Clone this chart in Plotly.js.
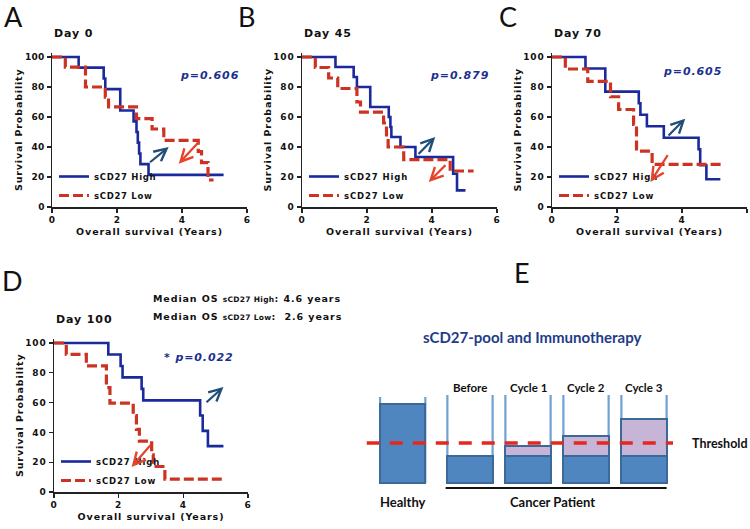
<!DOCTYPE html>
<html>
<head>
<meta charset="utf-8">
<script src="https://cdn.plot.ly/plotly-3.0.1.min.js"></script>
<style>
html,body{margin:0;padding:0;background:#fff}
#chart{width:750px;height:529px}
svg text{letter-spacing:0.9px}
text.ytitle{letter-spacing:0.85px}
text.xtitle{letter-spacing:0.9px}
.xtick text,.ytick text{letter-spacing:0.3px}
text.legendtext{letter-spacing:0.7px}
</style>
</head>
<body>
<div id="chart"></div>
<script>
// ---------------- DATA ----------------
// Kaplan-Meier step curves (time in years, survival %)
const aHighT = [0, 0.82, 1.59, 1.64, 2.10, 2.51, 2.60, 2.64, 2.68, 2.72, 2.97, 5.28];
const aHighS = [100, 92.9, 85.7, 78.6, 64.3, 57.1, 50.0, 42.9, 35.7, 28.6, 21.4, 21.4];
const aLowT  = [0, 0.41, 1.03, 1.64, 1.74, 2.60, 3.08, 3.44, 4.50, 4.60, 4.80, 4.97];
const aLowS  = [100, 93.3, 80.0, 73.3, 66.7, 58.9, 52.0, 44.4, 37.0, 29.6, 18.0, 18.0];

const bHighT = [0, 1.03, 1.59, 1.69, 2.10, 2.67, 2.72, 2.75, 3.03, 3.49, 4.65, 4.77, 5.03];
const bHighS = [100, 93.3, 86.7, 80.0, 66.7, 60.0, 53.3, 46.7, 40.0, 33.3, 22.2, 11.1, 11.1];
const bLowT  = [0, 0.41, 0.82, 1.10, 1.69, 1.80, 2.51, 2.60, 2.65, 3.13, 4.56, 5.28];
const bLowS  = [100, 93.0, 86.0, 79.0, 70.0, 63.3, 56.0, 48.0, 40.0, 31.6, 24.0, 24.0];

const cHighT = [0, 1.03, 1.64, 2.67, 2.72, 2.92, 3.44, 4.51, 4.56, 4.75, 5.18];
const cHighS = [100, 92.3, 76.9, 69.2, 61.5, 53.8, 46.2, 38.5, 27.8, 18.5, 18.5];
const cLowT  = [0, 0.41, 1.10, 1.80, 2.05, 2.51, 2.60, 3.08, 5.28];
const cLowS  = [100, 92.0, 83.8, 73.5, 65.0, 55.0, 37.3, 28.4, 28.4];

const dHighT = [0, 1.68, 2.06, 2.12, 2.71, 2.76, 4.52, 4.60, 4.76, 5.24];
const dHighS = [100, 92.3, 84.6, 76.9, 69.2, 61.5, 51.3, 41.0, 30.8, 30.8];
const dLowT  = [0, 0.38, 1.00, 1.62, 1.73, 2.45, 2.55, 2.64, 3.02, 3.07, 3.43, 5.29];
const dLowS  = [100, 92.3, 84.6, 70.0, 59.7, 51.3, 42.0, 34.2, 25.0, 17.1, 8.6, 8.6];

const panelDays = ['Day 0', 'Day 45', 'Day 70', 'Day 100'];
const pValues   = ['p=0.606', 'p=0.879', 'p=0.605', '* p=0.022'];
const seriesNames = ['sCD27 High', 'sCD27 Low'];
const xTicks = [0, 2, 4, 6];
const yTicks = [0, 20, 40, 60, 80, 100];
const medianHigh = 4.6;
const medianLow = 2.6;

// Panel E: sCD27 pool schematic
const stages = ['Healthy', 'Before', 'Cycle 1', 'Cycle 2', 'Cycle 3'];
const basePool = [79, 27, 27, 27, 27];
const therapyGain = [0, 0, 10, 20, 37];
const thresholdLevel = 40;

// ---------------- LAYOUT HELPERS ----------------
const W = 750, H = 529;
const px = v => v / W;
const py = v => 1 - v / H;
const BLUE = '#1a2a9c', RED = '#cc3322';
const ARROW_BLUE = '#1f4e79', ARROW_RED = '#e5432c';
const FONT = 'DejaVu Sans';
const noSpace = s => '<span style="letter-spacing:0px">' + s + '</span>';

const curves = [
  [aHighT, aHighS, aLowT, aLowS],
  [bHighT, bHighS, bLowT, bLowS],
  [cHighT, cHighS, cLowT, cLowS],
  [dHighT, dHighS, dLowT, dLowS]
];
// plot-area boxes in pixels: [left, right(x=6), top(y=100), bottom(y=0)]
const boxes = [
  [52, 247, 57, 207],
  [302, 497, 57, 207],
  [552, 747, 57, 207],
  [54, 248, 343, 492]
];
const legendTops = [162, 162, 162, 447];
const YMAX = 103;

const data = [];
const layout = {
  width: W, height: H,
  margin: {l: 0, r: 0, t: 0, b: 0},
  paper_bgcolor: '#fff', plot_bgcolor: 'rgba(0,0,0,0)',
  showlegend: true,
  barmode: 'stack',
  annotations: [], shapes: []
};

curves.forEach((c, i) => {
  const k = i + 1;
  const sfx = k === 1 ? '' : String(k);
  const xa = 'x' + sfx, ya = 'y' + sfx, lg = 'legend' + sfx;
  data.push({x: c[0], y: c[1], mode: 'lines', name: seriesNames[0], xaxis: xa, yaxis: ya, legend: lg,
    line: {shape: 'hv', color: BLUE, width: 2.6}, hoverinfo: 'skip'});
  data.push({x: c[2], y: c[3], mode: 'lines', name: seriesNames[1], xaxis: xa, yaxis: ya, legend: lg,
    line: {shape: 'hv', color: RED, width: 3.2, dash: '10px,4px'}, hoverinfo: 'skip'});

  const b = boxes[i];
  const pxPerUnit = (b[3] - b[2]) / 100;
  const topPx = b[3] - YMAX * pxPerUnit;
  const axFont = {family: FONT, size: 9, color: '#111', weight: 'bold'};
  layout['xaxis' + sfx] = {
    domain: [px(b[0]), px(b[1])], range: [0, 6], anchor: ya,
    tickvals: xTicks, ticks: 'outside', ticklen: 4, tickwidth: 1.2, tickcolor: '#222',
    showline: true, linecolor: '#222', linewidth: 1.5, showgrid: false, zeroline: false,
    tickfont: axFont, fixedrange: true,
    title: {text: 'Overall survival (Years)', font: {family: FONT, size: 9.5, color: '#111', weight: 'bold'}, standoff: 4}
  };
  layout['yaxis' + sfx] = {
    domain: [py(b[3]), py(topPx)], range: [0, YMAX], anchor: xa,
    tickvals: yTicks, ticks: 'outside', ticklen: 4, tickwidth: 1.2, tickcolor: '#222',
    showline: true, linecolor: '#222', linewidth: 1.5, showgrid: false, zeroline: false,
    tickfont: axFont, fixedrange: true,
    title: {text: 'Survival Probability', font: {family: FONT, size: 9.5, color: '#111', weight: 'bold'}, standoff: 0}
  };
  layout[lg] = {
    x: px(b[0] + 2), y: py(legendTops[i]), xanchor: 'left', yanchor: 'top', traceorder: 'normal',
    bgcolor: 'rgba(0,0,0,0)', borderwidth: 0, itemwidth: 30, tracegroupgap: 0,
    font: {family: FONT, size: 8.5, color: '#111', weight: 'bold'}
  };
  layout.annotations.push({xref: 'paper', yref: 'paper', x: px(b[0]), y: py(b[2] - 24),
    text: panelDays[i], showarrow: false, xanchor: 'left', yanchor: 'middle',
    font: {family: FONT, size: 11, color: '#111', weight: 'bold'}});
});

// p-values
const pPos = [[241, 75], [491, 75], [724, 72], [236, 357]];
pPos.forEach((p, i) => {
  layout.annotations.push({xref: 'paper', yref: 'paper', x: px(p[0]), y: py(p[1]), xanchor: 'right', yanchor: 'middle',
    text: '<i>' + pValues[i] + '</i>', showarrow: false,
    font: {family: FONT, size: 11, color: '#1c2f8f', weight: 'bold'}});
});

// Arrows (head x,y ; tail x,y) in data coordinates per panel
const arrowSpec = [
  ['', 3.59, 40, 2.97, 29, ARROW_BLUE], ['', 3.9, 28.9, 4.56, 44.4, ARROW_RED],
  ['2', 4.1, 46.7, 3.54, 34.4, ARROW_BLUE], ['2', 3.9, 16.7, 4.46, 28.9, ARROW_RED],
  ['3', 4.1, 58.9, 3.54, 46.7, ARROW_BLUE], ['3', 3.03, 16.7, 3.59, 35.6, ARROW_RED],
  ['4', 5.24, 70.5, 4.67, 59.3, ARROW_BLUE], ['4', 2.4, 16.8, 3.02, 32.4, ARROW_RED]
];
arrowSpec.forEach(a => {
  layout.annotations.push({xref: 'x' + a[0], yref: 'y' + a[0], axref: 'x' + a[0], ayref: 'y' + a[0],
    x: a[1], y: a[2], ax: a[3], ay: a[4], text: '', showarrow: true,
    arrowhead: 5, arrowsize: 1.1, arrowwidth: 2.2, arrowcolor: a[5]});
});

// Panel letters
[['A', 13, 17], ['B', 247, 17], ['C', 508, 17], ['D', 12, 280], ['E', 522, 272]].forEach(l => {
  layout.annotations.push({xref: 'paper', yref: 'paper', x: px(l[1]), y: py(l[2]), text: noSpace(l[0]), showarrow: false,
    xanchor: 'center', yanchor: 'middle', font: {family: 'Lato', size: 27, color: '#111'}});
});

// Median OS text
layout.annotations.push({xref: 'paper', yref: 'paper', x: px(151), y: py(298), xanchor: 'left', yanchor: 'middle', showarrow: false,
  text: 'Median OS <span style="font-size:7.5px;letter-spacing:0.3px">sCD27 High</span>: ' + medianHigh + ' years',
  font: {family: FONT, size: 9.5, color: '#111', weight: 'bold'}});
layout.annotations.push({xref: 'paper', yref: 'paper', x: px(151), y: py(316), xanchor: 'left', yanchor: 'middle', showarrow: false,
  text: 'Median OS <span style="font-size:7.5px;letter-spacing:0.3px">sCD27 Low</span>:  ' + medianLow + ' years',
  font: {family: FONT, size: 9.5, color: '#111', weight: 'bold'}});

// ---------------- PANEL E ----------------
const HEALTHY_OFFSET = -0.16;
const xPos = stages.map((s, i) => i === 0 ? HEALTHY_OFFSET : i);
const BAR_W = 0.78;
data.push({type: 'bar', x: xPos, y: basePool, xaxis: 'x5', yaxis: 'y5', width: BAR_W, showlegend: false, hoverinfo: 'skip',
  marker: {color: '#4f86c0', line: {color: '#3b6a99', width: 2.2}}});
data.push({type: 'bar', x: xPos, y: therapyGain, xaxis: 'x5', yaxis: 'y5', width: BAR_W, showlegend: false, hoverinfo: 'skip',
  marker: {color: '#c6b5d6', line: {color: '#3b6a99', width: 2.2}}});
layout.xaxis5 = {domain: [px(354), px(702)], range: [-1, 5], visible: false, fixedrange: true, anchor: 'y5'};
layout.yaxis5 = {domain: [py(491), py(393)], range: [-8, 90], visible: false, fixedrange: true, anchor: 'x5'};

xPos.forEach((x, i) => {
  [-BAR_W / 2, BAR_W / 2].forEach(d => {
    layout.shapes.push({type: 'line', xref: 'x5', yref: 'y5', x0: x + d, x1: x + d, y0: 0, y1: i === 0 ? 86 : 88,
      line: {color: '#6fa1d2', width: 2.2}, layer: 'below'});
  });
});
layout.shapes.push({type: 'line', xref: 'x5', yref: 'y5', x0: -0.78, x1: 4.5, y0: thresholdLevel, y1: thresholdLevel,
  line: {color: '#e4281c', width: 3.5, dash: '13px,10px'}, layer: 'above'});
layout.shapes.push({type: 'line', xref: 'x5', yref: 'y5', x0: xPos[1] - BAR_W / 2 - 0.03, x1: xPos[4] + BAR_W / 2, y0: -5, y1: -5,
  line: {color: '#111', width: 2}});

const efont = s => ({family: 'Lato', size: s, color: '#111', weight: 'bold'});
stages.slice(1).forEach((s, i) => {
  layout.annotations.push({xref: 'x5', yref: 'paper', x: xPos[i + 1], y: py(387), text: noSpace(s), showarrow: false,
    xanchor: 'center', yanchor: 'middle', font: efont(11.5)});
});
layout.annotations.push({xref: 'x5', yref: 'paper', x: xPos[0], y: py(502), text: noSpace(stages[0]), showarrow: false,
  xanchor: 'center', yanchor: 'middle', font: efont(13)});
layout.annotations.push({xref: 'x5', yref: 'paper', x: 2.43, y: py(502), text: noSpace('Cancer Patient'), showarrow: false,
  xanchor: 'center', yanchor: 'middle', font: efont(13)});
layout.annotations.push({xref: 'x5', yref: 'y5', x: 4.79, y: thresholdLevel, text: noSpace('Threshold'), showarrow: false,
  xanchor: 'left', yanchor: 'middle', font: efont(12.5)});
layout.annotations.push({xref: 'paper', yref: 'paper', x: px(532), y: py(337), text: noSpace('sCD27-pool and Immunotherapy'), showarrow: false,
  xanchor: 'center', yanchor: 'middle', font: {family: 'Lato', size: 15, color: '#1f3c88', weight: 'bold'}});

Plotly.newPlot('chart', data, layout, {staticPlot: true, displayModeBar: false});
</script>
</body>
</html>
